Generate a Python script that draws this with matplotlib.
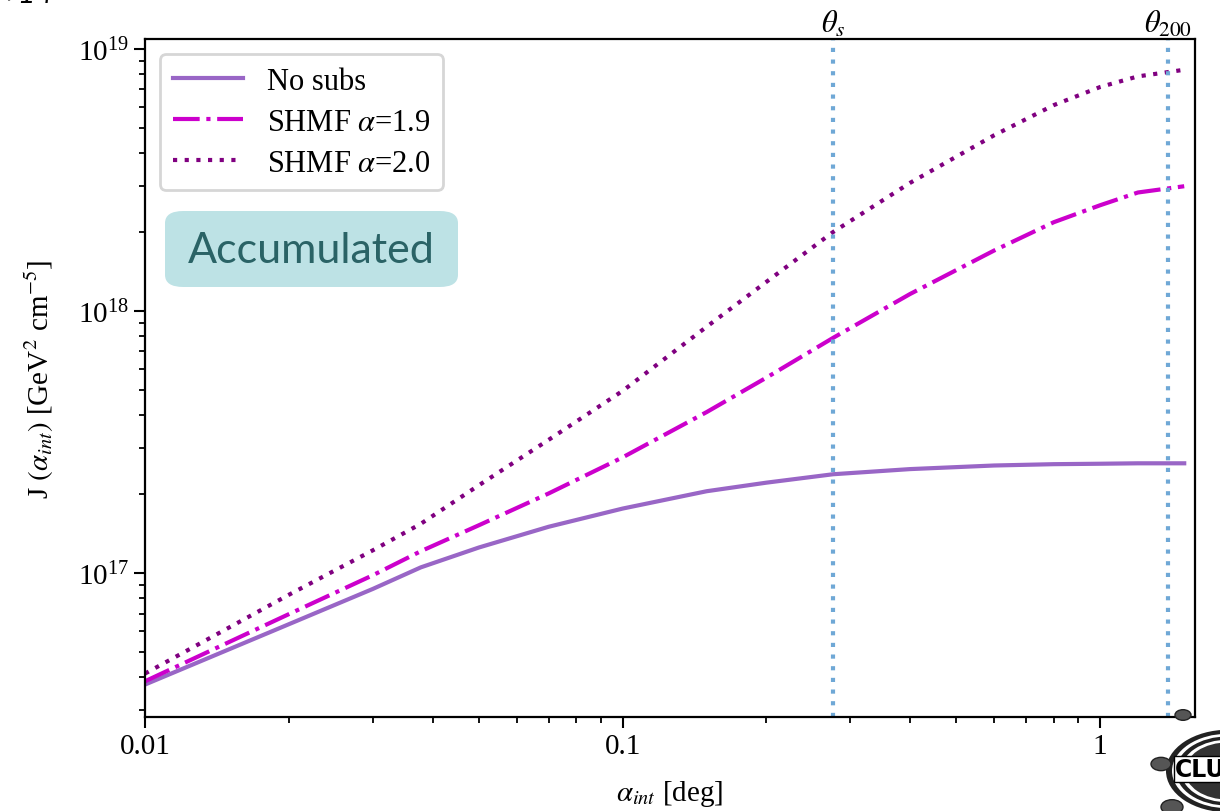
import matplotlib
matplotlib.use("Agg")
import matplotlib.pyplot as plt
from matplotlib.patches import Circle, FancyBboxPatch

plt.rcParams["font.family"] = ["Liberation Serif", "DejaVu Serif"]
plt.rcParams["mathtext.fontset"] = "stix"

# integration angle [deg]
alpha = [0.01, 0.02, 0.03, 0.0378, 0.05, 0.07, 0.1, 0.15, 0.2, 0.276,
         0.4, 0.6, 0.8, 1.0, 1.2, 1.5]

# J-factor [GeV^2 cm^-5]
j_nosubs = [3.75e16, 6.37e16, 8.69e16, 1.05e17, 1.25e17, 1.50e17, 1.76e17,
            2.05e17, 2.21e17, 2.38e17, 2.49e17, 2.57e17, 2.60e17, 2.61e17,
            2.62e17, 2.62e17]
j_shmf19 = [3.86e16, 6.96e16, 9.8e16, 1.21e17, 1.52e17, 2.01e17, 2.76e17,
            4.11e17, 5.56e17, 7.89e17, 1.16e18, 1.70e18, 2.18e18, 2.53e18,
            2.83e18, 2.99e18]
j_shmf20 = [4.13e16, 8.25e16, 1.22e17, 1.54e17, 2.16e17, 3.22e17, 4.95e17,
            8.7e17, 1.29e18, 2.0e18, 3.08e18, 4.68e18, 6.10e18, 7.15e18,
            7.85e18, 8.32e18]

theta_s = 0.276
theta_200 = 1.39

fig = plt.figure(figsize=(12.2, 8.12), dpi=100)
ax = fig.add_axes([0.1189, 0.1158, 0.8606, 0.8349])

ax.plot(alpha, j_nosubs, color="#9966c6", lw=3.0, ls="-", label="No subs")
ax.plot(alpha, j_shmf19, color="#cc00cc", lw=3.0, ls="-.", label=r"SHMF $\alpha$=1.9")
ax.plot(alpha, j_shmf20, color="#800080", lw=3.0, ls=(0, (1, 1.8)), label=r"SHMF $\alpha$=2.0")

for th in (theta_s, theta_200):
    ax.axvline(th, color="#6fa8d6", lw=3.0, ls=(0, (1, 1.8)))
ax.text(theta_s, 1.0, r"$\theta_s$", transform=ax.get_xaxis_transform(),
        ha="center", va="bottom", fontsize=22)
ax.text(theta_200, 1.0, r"$\theta_{200}$", transform=ax.get_xaxis_transform(),
        ha="center", va="bottom", fontsize=22)

ax.set_xscale("log")
ax.set_yscale("log")
ax.set_xlim(0.01, 1.58)
ax.set_ylim(2.82e16, 1.09e19)
ax.set_xticks([0.01, 0.1, 1])
ax.set_xticklabels(["0.01", "0.1", "1"])

ax.tick_params(which="major", length=8, width=1.5, labelsize=21)
ax.tick_params(which="minor", length=4.5, width=1.3)
for s in ax.spines.values():
    s.set_linewidth(1.6)

ax.set_xlabel(r"$\alpha_{int}$ [deg]", fontsize=21, labelpad=14)
ax.set_ylabel(r"J $(\alpha_{int})$ [GeV$^2$ cm$^{-5}$]", fontsize=21, labelpad=16)

leg = ax.legend(loc="upper left", fontsize=22, handlelength=2.3,
                borderaxespad=0.5, labelspacing=0.4, fancybox=True)
leg.get_frame().set_edgecolor("#cccccc")
leg.get_frame().set_linewidth(2)

box = FancyBboxPatch((165 / 1220, 1 - 288 / 812), 293 / 1220, 76 / 812,
                     boxstyle="round,pad=0,rounding_size=0.015",
                     transform=fig.transFigure, facecolor="#bde2e5",
                     edgecolor="none", zorder=5)
fig.add_artist(box)
fig.text(311 / 1220, 1 - 251 / 812, "Accumulated", ha="center", va="center",
         fontsize=31, color="#2a6366", family="Lato", zorder=6)

# cropped leftover text and logo at the edges
fig.text(0.0, 1.008, "+14", ha="left", va="center", fontsize=22,
         style="italic", family="Lato")
for cx, cy, r in [(1183, 716, 8), (1161, 765, 10), (1172, 808, 11)]:
    fig.add_artist(Circle((cx / 1220, 1 - cy / 812), r / 1220,
                          transform=fig.transFigure, facecolor="#555555",
                          edgecolor="#222222", zorder=7))
for r, fc in [(62, "#222222"), (56, "white"), (52, "#222222"), (47, "white"), (43, "#333333")]:
    fig.add_artist(Circle((1228 / 1220, 1 - 772 / 812), r / 1220,
                          transform=fig.transFigure, facecolor=fc,
                          edgecolor="none", zorder=6))
fig.text(1175 / 1220, 1 - 770 / 812, "CLUMPY", ha="left", va="center",
         fontsize=17, weight="bold", color="black", family="DejaVu Sans",
         bbox=dict(facecolor="white", edgecolor="black", pad=1), zorder=8)

fig.savefig("out.png", dpi=100)
